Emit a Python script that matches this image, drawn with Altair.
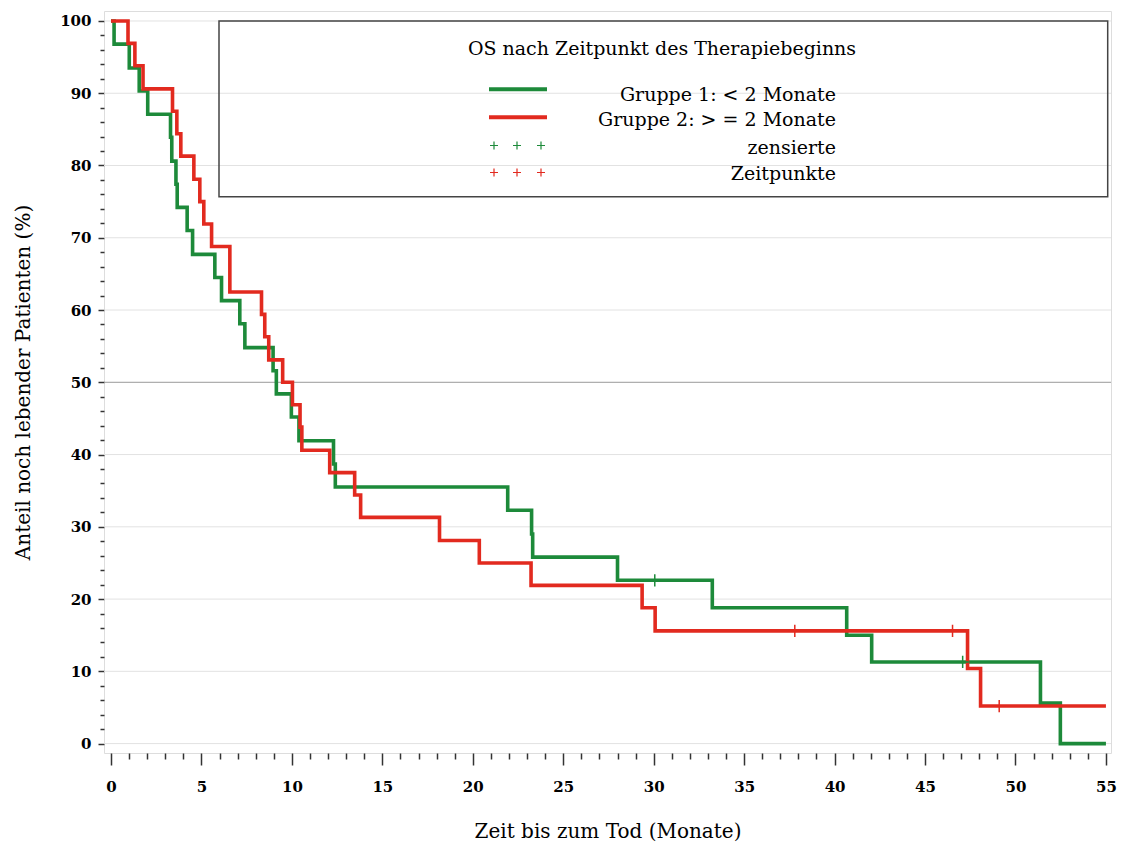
import altair as alt
import pandas as pd

# ---------------- data ----------------
group_names = ["Gruppe 1: < 2 Monate", "Gruppe 2: > = 2 Monate"]
group_colors = ["#1d8a3a", "#e22a1f"]

g_time = [0, 0.17, 1.01, 1.56, 2.03, 3.29, 3.36, 3.59, 3.66, 4.21, 4.51, 5.74, 6.11,
          7.12, 7.40, 8.96, 9.14, 9.97, 10.39, 12.30, 12.40, 21.93, 23.25, 23.31,
          28.0, 33.24, 40.67, 42.05, 51.38, 52.48, 55.0]
g_surv = [100, 96.8, 93.5, 90.3, 87.1, 83.9, 80.6, 77.4, 74.2, 71.0, 67.7, 64.5, 61.3,
          58.1, 54.8, 51.6, 48.4, 45.2, 41.9, 38.7, 35.5, 32.3, 29.0, 25.8,
          22.6, 18.8, 15.0, 11.3, 5.6, 0.0, 0.0]

r_time = [0, 0.94, 1.32, 1.77, 3.40, 3.64, 3.86, 4.58, 4.91, 5.13, 5.56, 6.57, 8.32,
          8.50, 8.72, 9.49, 10.03, 10.45, 10.55, 12.09, 13.47, 13.80, 18.16, 20.36,
          23.22, 29.36, 30.08, 47.35, 48.07, 55.0]
r_surv = [100, 96.9, 93.8, 90.6, 87.5, 84.4, 81.3, 78.1, 75.0, 71.9, 68.8, 62.5, 59.4,
          56.3, 53.1, 50.0, 46.9, 43.8, 40.6, 37.5, 34.4, 31.3, 28.1, 25.0,
          21.9, 18.8, 15.6, 10.4, 5.2, 5.2]

g_cens_time = [30.06, 47.08]
g_cens_surv = [22.6, 11.3]
r_cens_time = [37.8, 46.52, 49.1]
r_cens_surv = [15.6, 15.6, 5.2]

grid_values = [0, 10, 20, 30, 40, 60, 70, 80, 90, 100]
ref_value = [50]

x_ticks = list(range(0, 56))
y_ticks = list(range(0, 101, 2))

legend_title = "OS nach Zeitpunkt des Therapiebeginns"
legend_labels = ["Gruppe 1: < 2 Monate", "Gruppe 2: > = 2 Monate", "zensierte", "Zeitpunkte"]

x_title = "Zeit bis zum Tod (Monate)"
y_title = "Anteil noch lebender Patienten (%)"

FONT = "DejaVu Serif"

# ---------------- tables ----------------
curves = pd.concat([
    pd.DataFrame({"group": group_names[0], "time": g_time, "surv": g_surv}),
    pd.DataFrame({"group": group_names[1], "time": r_time, "surv": r_surv}),
])
cens = pd.concat([
    pd.DataFrame({"group": group_names[0], "time": g_cens_time, "surv": g_cens_surv}),
    pd.DataFrame({"group": group_names[1], "time": r_cens_time, "surv": r_cens_surv}),
])
grid_df = pd.DataFrame({"surv": grid_values})
ref_df = pd.DataFrame({"surv": ref_value})

xscale = alt.Scale(domain=[-0.387, 55.28], nice=False, zero=False)
yscale = alt.Scale(domain=[-1.30, 101.38], nice=False, zero=False)

xaxis = alt.Axis(
    values=x_ticks, title=x_title, grid=False, domain=False,
    labelExpr="datum.value % 5 === 0 ? datum.label : ''",
    tickSize={"condition": {"test": "datum.value % 5 === 0", "value": 12}, "value": 6},
    tickColor="#333333", tickWidth=1.5,
    labelFont=FONT, labelFontSize=15, labelFontWeight="bold", labelColor="black",
    labelPadding=14, labelFlush=False, labelOverlap=False,
    titleFont=FONT, titleFontSize=20, titleFontWeight="normal", titleColor="black",
    titlePadding=27,
)
yaxis = alt.Axis(
    values=y_ticks, title=y_title, grid=False, domain=False,
    labelExpr="datum.value % 10 === 0 ? datum.label : ''",
    tickSize={"condition": {"test": "datum.value % 10 === 0", "value": 6}, "value": 4},
    tickColor="#333333", tickWidth=1.5,
    labelFont=FONT, labelFontSize=15, labelFontWeight="bold", labelColor="black",
    labelPadding=7, labelFlush=False, labelOverlap=False,
    titleFont=FONT, titleFontSize=20, titleFontWeight="normal", titleColor="black",
    titlePadding=26,
)


def X():
    return alt.X("time:Q", scale=xscale, axis=xaxis)


def Y():
    return alt.Y("surv:Q", scale=yscale, axis=yaxis)


color = alt.Color("group:N", scale=alt.Scale(domain=group_names, range=group_colors), legend=None)

grid = alt.Chart(grid_df).mark_rule(color="#e2e2e2", strokeWidth=1).encode(y=Y())
ref = alt.Chart(ref_df).mark_rule(color="#9a9a9a", strokeWidth=1).encode(y=Y())

lines = alt.Chart(curves).mark_line(interpolate="step-after", strokeWidth=3.6).encode(
    x=X(), y=Y(), color=color, order=alt.Order("time:Q")
)

cens_marks = alt.Chart(cens).mark_point(
    shape="M0,-1L0,1M-1,0L1,0", size=150, filled=False, strokeWidth=1.5, opacity=1
).encode(x=X(), y=Y(), color=color)

# ---------------- in-plot legend ----------------
box = alt.Chart(pd.DataFrame({"d": [0]})).mark_rect(
    fill="white", fillOpacity=0, stroke="#444444", strokeWidth=1.5
).encode(x=alt.value(115), x2=alt.value(1003.7), y=alt.value(10), y2=alt.value(185.8))

leg_title = alt.Chart(pd.DataFrame({"t": [legend_title]})).mark_text(
    font=FONT, fontSize=19, color="black", align="center", baseline="middle"
).encode(text="t:N", x=alt.value(558), y=alt.value(38))

leg_text_df = pd.DataFrame({"label": legend_labels, "py": [84.3, 108.8, 137.3, 163.3]})
leg_text = alt.Chart(leg_text_df).mark_text(
    font=FONT, fontSize=19, color="black", align="right", baseline="middle"
).encode(text="label:N", x=alt.value(732), y=alt.Y("py:Q", scale=None))

leg_line_df = pd.DataFrame({"group": group_names, "py": [78.3, 106.3]})
leg_lines = alt.Chart(leg_line_df).mark_rule(strokeWidth=4).encode(
    x=alt.value(385), x2=alt.value(443), y=alt.Y("py:Q", scale=None), color=color
)

leg_cross_df = pd.DataFrame({
    "group": [group_names[0]] * 3 + [group_names[1]] * 3,
    "px": [390, 413, 437] * 2,
    "py": [134.5] * 3 + [161.5] * 3,
})
leg_cross = alt.Chart(leg_cross_df).mark_point(
    shape="M0,-1L0,1M-1,0L1,0", size=64, filled=False, strokeWidth=1.2, opacity=1
).encode(x=alt.X("px:Q", scale=None), y=alt.Y("py:Q", scale=None), color=color)

chart = alt.layer(
    grid, ref, box, lines, cens_marks, leg_title, leg_text, leg_lines, leg_cross
).properties(
    width=1007, height=742,
    autosize=alt.AutoSizeParams(type="none"),
    padding={"left": 96, "top": 3, "right": 6, "bottom": 90},
).configure_view(
    stroke="#3a3a3a", strokeWidth=2
).configure(background="white")

chart.save("out.html", embed_options={"renderer": "svg", "actions": False})
